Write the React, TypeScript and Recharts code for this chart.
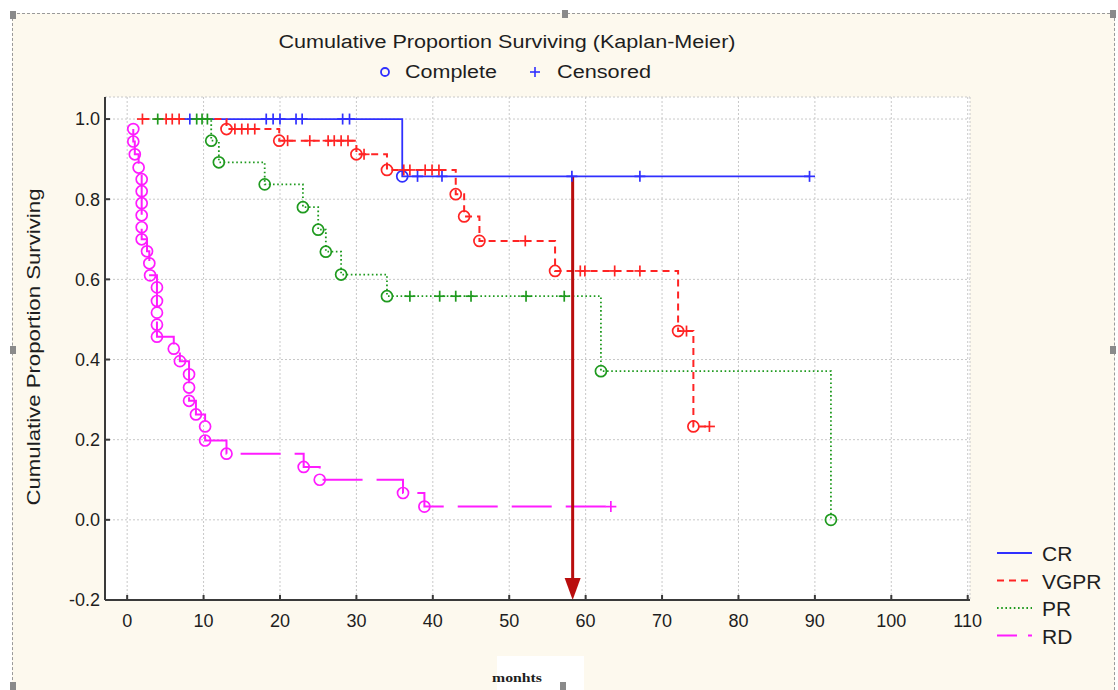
import React from "react";
import { LineChart, Line, XAxis, YAxis, CartesianGrid, ReferenceLine } from "recharts";

// rows: [months, cumulative proportion surviving, censored? 1 : 0]
const CR: [number, number, number][] = [
  [8.2, 1, 1], [18.2, 1, 1], [19.1, 1, 1], [20, 1, 1], [22.1, 1, 1], [22.9, 1, 1],
  [28.2, 1, 1], [29.1, 1, 1],
  [36, 0.857, 0], [38, 0.857, 1], [41.2, 0.857, 1], [58.2, 0.857, 1], [67.1, 0.857, 1],
  [89.3, 0.857, 1],
];

const VGPR: [number, number, number][] = [
  [2, 1, 1], [5.1, 1, 1], [5.9, 1, 1], [6.8, 1, 1],
  [13, 0.975, 0], [14.1, 0.975, 1], [15, 0.975, 1], [15.8, 0.975, 1], [16.7, 0.975, 1],
  [19.9, 0.946, 0], [21, 0.946, 1], [23.9, 0.946, 1], [26.3, 0.946, 1], [27.1, 0.946, 1],
  [28, 0.946, 1], [28.9, 0.946, 1],
  [30, 0.912, 0], [31, 0.912, 1],
  [34, 0.873, 0], [36.2, 0.873, 1], [37, 0.873, 1], [39, 0.873, 1], [39.9, 0.873, 1], [40.8, 0.873, 1],
  [43, 0.8125, 0], [44.1, 0.757, 0], [46.1, 0.696, 0], [52.1, 0.696, 1],
  [56, 0.621, 0], [59.3, 0.621, 1], [59.9, 0.621, 1], [63.8, 0.621, 1], [67.1, 0.621, 1],
  [72.1, 0.471, 0], [73.2, 0.471, 1],
  [74.1, 0.233, 0], [76.2, 0.233, 1],
];

const PR: [number, number, number][] = [
  [4, 1, 1], [9.1, 1, 1], [9.8, 1, 1], [10.5, 1, 1],
  [11, 0.946, 0], [12, 0.892, 0], [18, 0.837, 0], [23, 0.78, 0], [25, 0.724, 0],
  [26, 0.669, 0], [28, 0.612, 0], [34, 0.558, 0],
  [37, 0.558, 1], [40.9, 0.558, 1], [43, 0.558, 1], [45, 0.558, 1], [52.2, 0.558, 1], [57.2, 0.558, 1],
  [62, 0.371, 0], [92.1, 0, 0],
];

const RD: [number, number, number][] = [
  [0.8, 0.975, 0], [0.8, 0.944, 0], [1, 0.912, 0], [1.5, 0.879, 0], [1.9, 0.85, 0],
  [1.9, 0.82, 0], [1.9, 0.79, 0], [1.9, 0.76, 0], [1.9, 0.73, 0], [1.9, 0.7, 0],
  [2.6, 0.67, 0], [2.9, 0.64, 0], [3, 0.61, 0], [3.9, 0.58, 0], [3.9, 0.546, 0],
  [3.9, 0.517, 0], [3.9, 0.487, 0], [3.9, 0.457, 0], [6.1, 0.427, 0], [6.9, 0.396, 0],
  [8.1, 0.363, 0], [8.1, 0.33, 0], [8.1, 0.297, 0], [9, 0.263, 0], [10.2, 0.233, 0],
  [10.2, 0.198, 0], [13, 0.165, 0], [23.1, 0.132, 0], [25.2, 0.1, 0], [36.1, 0.067, 0],
  [38.9, 0.033, 0], [63.3, 0.033, 1],
];

const X_TICKS = [0, 10, 20, 30, 40, 50, 60, 70, 80, 90, 100, 110];
const Y_TICKS = [-0.2, 0, 0.2, 0.4, 0.6, 0.8, 1.0];
const X_DOMAIN: [number, number] = [-2.9, 110.3];
const Y_DOMAIN: [number, number] = [-0.2, 1.055];

// marker arrow dropped from the CR plateau
const ARROW_MONTH = 58.3;
const ARROW_FROM = 0.857;

const SERIES = [
  { name: "CR", rows: CR, color: "#3030ff", dash: undefined as string | undefined, width: 1.8 },
  { name: "VGPR", rows: VGPR, color: "#ff2424", dash: "7 5", width: 2 },
  { name: "PR", rows: PR, color: "#1f9a1f", dash: "1.6 2.6", width: 1.8 },
  { name: "RD", rows: RD, color: "#ff1cff", dash: "40 14", width: 2 },
];

const FONT = "'Liberation Sans', Arial, sans-serif";
const INK = "#1e1e1e";

const toPoints = (rows: [number, number, number][]) =>
  rows.map(([t, s, c]) => ({ t, s, cens: c === 1 }));

// circle = complete, plus = censored
const marker = (color: string) => (p: any) => {
  const { cx, cy, payload, index } = p;
  if (cx == null || cy == null) return <g key={index} />;
  if (payload.cens) {
    return (
      <g key={index} stroke={color} strokeWidth={1.7}>
        <line x1={cx - 5.5} x2={cx + 5.5} y1={cy} y2={cy} />
        <line x1={cx} x2={cx} y1={cy - 5.5} y2={cy + 5.5} />
      </g>
    );
  }
  return <circle key={index} cx={cx} cy={cy} r={5.5} fill="none" stroke={color} strokeWidth={1.7} />;
};

const Arrow = (p: any) => {
  const { x1, y1, x2, y2 } = p;
  const c = "#b90d0d";
  return (
    <g>
      <line x1={x1} y1={y1} x2={x2} y2={y2 - 18} stroke={c} strokeWidth={3} />
      <polygon points={`${x2 - 8},${y2 - 22} ${x2 + 8},${y2 - 22} ${x2},${y2}`} fill={c} />
    </g>
  );
};

const Handle = ({ x, y }: { x: number; y: number }) => (
  <rect x={x - 3} y={y - 4} width={6} height={8} fill="#8a8a8a" />
);

export default function App() {
  const axisLine = { stroke: "#3a3a3a", strokeWidth: 2 };
  const tickLine = { stroke: "#3a3a3a", strokeWidth: 2 };
  return (
    <div style={{ position: "absolute", left: 0, top: 0, width: 1118, height: 690, background: "#fff", overflow: "hidden" }}>
      <div
        style={{
          position: "absolute", left: 12, top: 13, width: 1101, height: 700,
          background: "#fdf9ee", border: "1px dashed #9a9a9a",
        }}
      />
      <div style={{ position: "absolute", left: 0, top: 0 }}>
        <LineChart width={1118} height={690} margin={{ top: 97, right: 148, bottom: 60, left: 45 }}>
          <CartesianGrid stroke="#c8c8c8" strokeDasharray="2 2" fill="#fff" />
          <XAxis
            type="number" dataKey="t" domain={X_DOMAIN} ticks={X_TICKS} allowDataOverflow interval={0}
            height={30} tickSize={-5} tickMargin={19} axisLine={axisLine} tickLine={tickLine}
            tick={{ fontSize: 18, fill: INK, fontFamily: FONT }}
          />
          <XAxis
            xAxisId="top" orientation="top" type="number" domain={X_DOMAIN} ticks={X_TICKS}
            allowDataOverflow height={0} tickSize={-5} tick={false} axisLine={axisLine} tickLine={tickLine}
          />
          <YAxis
            type="number" domain={Y_DOMAIN} ticks={Y_TICKS} allowDataOverflow interval={0}
            width={60} tickSize={-5} tickMargin={10} axisLine={axisLine} tickLine={tickLine}
            tickFormatter={(v: number) => v.toFixed(1)}
            tick={{ fontSize: 18, fill: INK, fontFamily: FONT }}
          />
          <YAxis
            yAxisId="right" orientation="right" type="number" domain={Y_DOMAIN} ticks={Y_TICKS}
            allowDataOverflow width={0} tickSize={-5} tick={false} axisLine={axisLine} tickLine={tickLine}
          />
          {SERIES.map((s) => (
            <Line
              key={s.name}
              name={s.name}
              data={toPoints(s.rows)}
              dataKey="s"
              type="stepAfter"
              stroke={s.color}
              strokeWidth={s.width}
              strokeDasharray={s.dash}
              dot={marker(s.color)}
              activeDot={false}
              isAnimationActive={false}
            />
          ))}
          <ReferenceLine
            segment={[{ x: ARROW_MONTH, y: ARROW_FROM }, { x: ARROW_MONTH, y: Y_DOMAIN[0] }]}
            shape={Arrow}
          />
        </LineChart>
      </div>
      <svg width={1118} height={690} style={{ position: "absolute", left: 0, top: 0, pointerEvents: "none" }}>
        <g fontFamily={FONT} fill={INK}>
          <text x={507} y={48} fontSize={18} textAnchor="middle" textLength={457} lengthAdjust="spacingAndGlyphs">
            Cumulative Proportion Surviving (Kaplan-Meier)
          </text>
          <circle cx={385} cy={72} r={4} fill="none" stroke="#3030ff" strokeWidth={1.8} />
          <text x={405} y={78} fontSize={18} textLength={92} lengthAdjust="spacingAndGlyphs">Complete</text>
          <g stroke="#3030ff" strokeWidth={1.6}>
            <line x1={530} x2={540} y1={72} y2={72} />
            <line x1={535} x2={535} y1={67} y2={77} />
          </g>
          <text x={557} y={78} fontSize={18} textLength={94} lengthAdjust="spacingAndGlyphs">Censored</text>
          <text
            transform="translate(40,347) rotate(-90)" fontSize={18} textAnchor="middle"
            textLength={317} lengthAdjust="spacingAndGlyphs"
          >
            Cumulative Proportion Surviving
          </text>
        </g>
        {SERIES.map((s, i) => (
          <g key={s.name}>
            <line
              x1={997} x2={1032} y1={553 + i * 27.5} y2={553 + i * 27.5}
              stroke={s.color} strokeWidth={s.width}
              strokeDasharray={s.name === "RD" ? "20 11" : s.dash}
            />
            <text x={1042} y={561 + i * 27.5} fontSize={21} fontFamily={FONT} fill={INK}>{s.name}</text>
          </g>
        ))}
        <rect x={497} y={656} width={87} height={40} fill="#fff" />
        <text x={492} y={682} fontSize={12} fontFamily="'Liberation Serif', serif" fontWeight="bold" fill={INK}
          textLength={50} lengthAdjust="spacingAndGlyphs">monhts</text>
        <Handle x={13} y={15} />
        <Handle x={565} y={14} />
        <Handle x={1113} y={14} />
        <Handle x={13} y={350} />
        <Handle x={1113} y={350} />
        <Handle x={13} y={686} />
        <Handle x={563} y={686} />
      </svg>
    </div>
  );
}
